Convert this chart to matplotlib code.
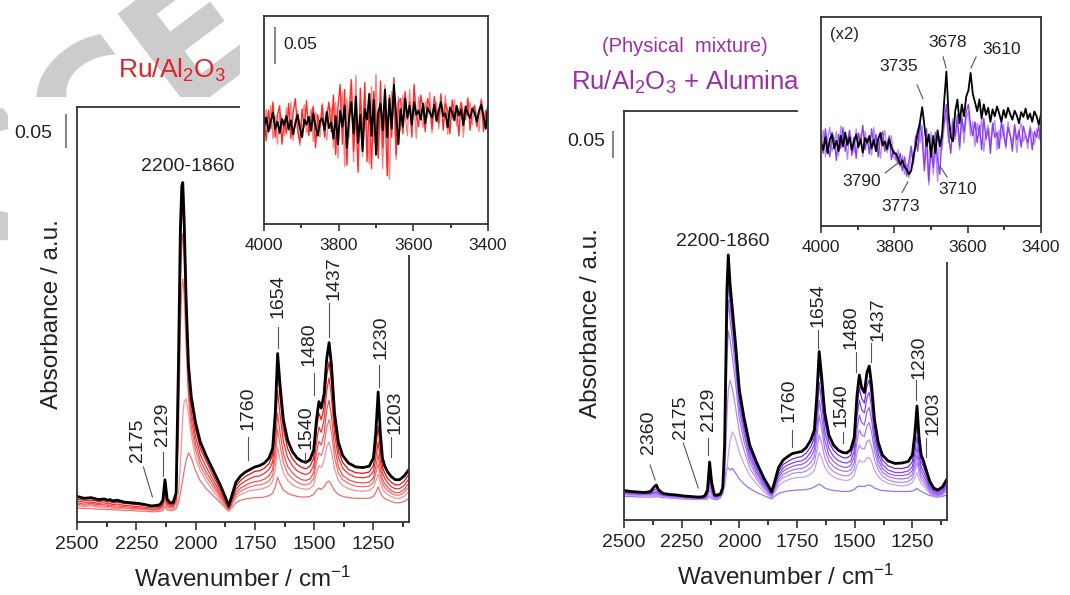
import numpy as np
import matplotlib
matplotlib.use("Agg")
import matplotlib.pyplot as plt
from matplotlib.ticker import MultipleLocator
from matplotlib.patches import Rectangle
from matplotlib.lines import Line2D

plt.rcParams['font.family'] = ['Liberation Sans', 'DejaVu Sans']
plt.rcParams['mathtext.fontset'] = 'custom'
plt.rcParams['mathtext.rm'] = 'Liberation Sans'
plt.rcParams['mathtext.it'] = 'Liberation Sans:italic'
plt.rcParams['mathtext.bf'] = 'Liberation Sans:bold'

# ---- main spectra: wavenumber grid (cm-1), absorbance in 1/1000 units ----
wavenumber = [2500, 2470, 2440, 2410, 2385, 2370, 2360, 2350, 2330, 2300, 2270, 2240, 2210, 2185, 2165, 2150,
              2138, 2129, 2120, 2108, 2095, 2082, 2072, 2064, 2058, 2054, 2048, 2040, 2030, 2018, 2000, 1980, 1955, 1925, 1895, 1870, 1860,
              1848, 1830, 1810, 1790, 1770, 1750, 1730, 1710, 1690, 1675, 1664, 1654, 1644, 1630, 1612, 1592, 1572, 1552, 1535, 1518, 1502,
              1490, 1480, 1470, 1458, 1447, 1437, 1427, 1414, 1398, 1380, 1355, 1325, 1295, 1268, 1250, 1240, 1230, 1221, 1212, 1203, 1190, 1175, 1158, 1140, 1120, 1100]

# Ru/Al2O3 (left), lowest red -> highest red, then final black
ru_red1 = [22, 21, 21, 20, 20, 19, 20, 19, 19, 18, 18, 17, 17, 16, 16, 17,
           18, 24, 19, 18, 18, 21, 30, 45, 58, 66, 80, 96, 108, 100, 80, 64, 52, 41, 30, 20, 17,
           22, 30, 34, 36, 37, 38, 38, 39, 41, 45, 55, 70, 60, 50, 45, 42, 40, 39, 39, 40, 43,
           50, 53, 51, 55, 62, 64, 58, 49, 43, 40, 38, 37, 37, 37, 40, 46, 55, 46, 40, 37, 34, 32, 30, 30, 32, 37]
ru_red2 = [26, 24, 25, 23, 23, 22, 22, 21, 21, 21, 20, 20, 19, 18, 18, 19,
           21, 30, 22, 20, 20, 24, 45, 90, 135, 165, 188, 192, 170, 135, 100, 80, 64, 48, 34, 22, 18,
           26, 38, 43, 46, 49, 50, 51, 53, 56, 63, 83, 117, 97, 77, 65, 58, 54, 52, 51, 52, 58,
           77, 88, 85, 96, 117, 125, 110, 83, 65, 57, 52, 49, 48, 49, 54, 64, 75, 61, 52, 47, 43, 40, 37, 37, 40, 48]
ru_red3 = [28, 26, 27, 25, 25, 24, 24, 23, 23, 22, 21, 21, 20, 19, 19, 20,
           23, 35, 24, 22, 22, 30, 140, 300, 370, 380, 355, 275, 195, 148, 112, 88, 71, 54, 38, 24, 19,
           28, 42, 48, 52, 55, 57, 58, 60, 64, 73, 100, 145, 120, 93, 76, 68, 62, 59, 58, 60, 68,
           93, 108, 104, 118, 148, 160, 140, 101, 77, 66, 60, 56, 55, 56, 62, 76, 90, 72, 60, 54, 49, 45, 42, 42, 46, 55]
ru_red4 = [30, 28, 29, 27, 27, 26, 26, 25, 25, 24, 23, 22, 21, 20, 20, 21,
           25, 41, 26, 24, 24, 33, 180, 370, 440, 450, 410, 305, 208, 160, 122, 96, 78, 59, 41, 26, 20,
           30, 46, 53, 57, 61, 63, 64, 67, 72, 82, 115, 170, 140, 107, 87, 77, 70, 66, 65, 67, 77,
           108, 126, 120, 138, 175, 190, 165, 117, 87, 73, 66, 62, 61, 62, 69, 86, 105, 82, 67, 60, 54, 49, 46, 46, 51, 61]
ru_red5 = [33, 31, 31, 29, 30, 28, 29, 27, 28, 26, 25, 24, 23, 22, 22, 23,
           27, 48, 29, 26, 26, 36, 205, 410, 480, 490, 440, 325, 222, 172, 133, 105, 86, 65, 45, 28, 21,
           33, 51, 59, 64, 68, 71, 72, 76, 82, 94, 135, 205, 168, 126, 101, 88, 80, 76, 74, 77, 88,
           125, 148, 140, 160, 205, 225, 195, 137, 101, 84, 75, 70, 69, 71, 79, 100, 125, 96, 77, 69, 61, 55, 52, 52, 57, 68]
ru_red6 = [36, 34, 34, 32, 33, 31, 32, 30, 31, 29, 28, 27, 26, 24, 24, 25,
           30, 55, 32, 28, 28, 40, 230, 440, 505, 515, 460, 340, 235, 185, 145, 115, 95, 72, 50, 31, 23,
           36, 56, 65, 71, 75, 79, 80, 84, 91, 105, 155, 240, 195, 145, 115, 99, 90, 85, 83, 87, 100,
           145, 170, 160, 180, 228, 250, 218, 152, 112, 93, 82, 77, 76, 78, 88, 115, 150, 112, 86, 77, 68, 62, 58, 58, 64, 75]
ru_black = [40, 37, 38, 35, 36, 34, 35, 33, 34, 31, 30, 29, 27, 25, 26, 27,
            34, 66, 36, 30, 30, 45, 250, 460, 525, 530, 470, 350, 245, 195, 155, 125, 103, 80, 57, 35, 25,
            40, 62, 72, 78, 82, 86, 88, 92, 100, 115, 170, 263, 215, 160, 128, 110, 100, 95, 93, 97, 112,
            160, 188, 178, 200, 255, 280, 245, 170, 125, 104, 92, 86, 85, 87, 100, 140, 203, 140, 100, 88, 78, 71, 66, 66, 72, 82]

# Ru/Al2O3 + Alumina (right), lowest purple -> highest purple, then final black
mix_p1 = [47, 47, 46, 46, 46, 46, 47, 46, 45, 44, 43, 42, 41, 41, 41, 41,
          42, 48, 43, 41, 41, 44, 60, 82, 97, 103, 104, 100, 103, 95, 82, 72, 63, 55, 49, 44, 42,
          47, 53, 56, 58, 59, 60, 60, 61, 63, 66, 69, 72, 69, 64, 61, 59, 58, 57, 57, 58, 61,
          66, 68, 67, 67, 69, 70, 68, 64, 61, 59, 58, 57, 57, 57, 58, 60, 63, 60, 57, 55, 52, 49, 47, 46, 47, 50]
mix_p2 = [50, 49, 49, 48, 48, 49, 49, 48, 47, 45, 44, 43, 42, 42, 42, 42,
          44, 50, 46, 43, 43, 45, 52, 66, 85, 102, 130, 158, 176, 165, 135, 112, 89, 72, 57, 47, 44,
          53, 68, 76, 80, 83, 85, 85, 87, 92, 99, 117, 135, 125, 106, 93, 86, 82, 80, 79, 81, 89,
          110, 120, 116, 116, 124, 125, 117, 100, 87, 79, 73, 70, 68, 70, 75, 84, 95, 82, 73, 69, 62, 53, 47, 45, 49, 59]
mix_p3 = [52, 51, 50, 50, 50, 51, 51, 50, 48, 46, 45, 44, 43, 43, 43, 43,
          46, 60, 50, 44, 44, 46, 54, 85, 150, 205, 260, 280, 262, 230, 175, 140, 104, 81, 63, 50, 46,
          58, 76, 85, 89, 93, 95, 95, 98, 105, 114, 140, 170, 155, 125, 106, 97, 92, 89, 88, 91, 102,
          133, 150, 143, 142, 157, 160, 147, 120, 100, 88, 80, 76, 75, 77, 83, 97, 115, 94, 81, 76, 67, 56, 49, 47, 51, 63]
mix_p4 = [53, 52, 51, 51, 51, 52, 53, 51, 49, 47, 46, 45, 44, 43, 43, 44,
          48, 70, 54, 45, 45, 47, 56, 105, 225, 320, 378, 360, 325, 280, 203, 158, 115, 88, 67, 53, 48,
          61, 81, 91, 96, 100, 102, 103, 107, 115, 127, 163, 210, 185, 143, 118, 107, 101, 98, 97, 100, 114,
          157, 180, 170, 167, 188, 195, 175, 137, 110, 96, 87, 83, 82, 84, 91, 108, 130, 104, 89, 83, 72, 59, 51, 49, 53, 66]
mix_p5 = [54, 53, 52, 52, 52, 54, 55, 53, 50, 48, 47, 46, 45, 44, 44, 45,
          50, 80, 58, 46, 46, 48, 58, 120, 265, 380, 440, 400, 360, 310, 222, 172, 124, 94, 71, 55, 50,
          64, 86, 98, 103, 107, 110, 111, 116, 126, 140, 185, 240, 210, 160, 130, 117, 110, 106, 105, 109, 126,
          180, 210, 195, 190, 217, 225, 200, 152, 120, 103, 93, 89, 89, 91, 99, 120, 146, 115, 97, 90, 78, 63, 54, 51, 55, 70]
mix_p6 = [55, 54, 53, 53, 53, 56, 57, 54, 51, 49, 48, 46, 45, 44, 44, 46,
          52, 90, 63, 47, 47, 49, 60, 130, 290, 415, 480, 430, 385, 330, 236, 183, 132, 100, 75, 58, 52,
          67, 91, 104, 110, 114, 117, 118, 124, 136, 152, 205, 275, 238, 178, 143, 127, 119, 115, 114, 118, 138,
          205, 240, 221, 214, 245, 255, 225, 168, 131, 111, 100, 95, 95, 98, 107, 133, 167, 128, 106, 98, 84, 67, 57, 53, 58, 73]
mix_p7 = [57, 55, 55, 54, 55, 60, 62, 57, 52, 50, 49, 47, 46, 45, 45, 47,
          55, 100, 68, 48, 48, 50, 62, 140, 310, 440, 510, 455, 405, 345, 248, 193, 140, 107, 80, 61, 54,
          70, 97, 111, 117, 122, 125, 127, 134, 147, 165, 228, 307, 265, 197, 157, 139, 130, 125, 124, 129, 152,
          228, 265, 243, 234, 268, 280, 246, 183, 142, 120, 108, 103, 103, 106, 117, 150, 195, 145, 117, 108, 91, 72, 60, 56, 62, 77]
mix_black = [59, 57, 56, 55, 57, 66, 70, 60, 53, 51, 50, 48, 47, 46, 46, 48,
             60, 116, 75, 50, 50, 52, 65, 150, 330, 460, 530, 470, 420, 360, 260, 205, 150, 115, 85, 65, 56,
             75, 105, 120, 127, 133, 135, 137, 145, 160, 180, 250, 337, 290, 215, 170, 150, 140, 135, 134, 140, 165,
             250, 290, 265, 255, 295, 308, 270, 200, 155, 130, 118, 113, 114, 117, 130, 170, 228, 165, 130, 120, 100, 78, 64, 60, 66, 82]

# ---- OH region insets: 4000 -> 3400 cm-1 every 6 cm-1, values in 1/1000 ----
oh_wavenumber = np.arange(4000, 3399, -6)
ru_oh_black = [-5, 8, -12, 3, 15, -8, 2, -14, 6, -3, 10, -9, 4, -16, 0, 12, -6, -20, 5, -2, 9, -11, 14, -4, -18, 3, 7, -10, 16, -7, 1,
               -22, 10, -30, 18, -5, 25, -35, 8, 30, -15, 38, -28, 12, -40, 20, 5, 42, -18, 33, -45, 15, 28, -10, 48, -20, 35, -8, 55, 10, -30,
               20, -5, 35, 8, 25, -2, 30, 12, 18, 5, 28, 0, 22, 15, 8, 26, 3, 18, 30, 10, 14, -6, 22, 16, 4, 25, 11, 19, -3, 24, 13, 7, 21, 15, 2, 18, 26, 9, -8, 25]
ru_oh_red = [10, -25, 18, -8, 30, -20, 12, 25, -30, 5, -15, 28, -22, 15, 35, -10, -28, 20, -5, 32, -18, 8, 24, -35, 12, -6, 26, -20, 10, 30, -12,
             40, -45, 22, 55, -30, 48, -60, 20, 62, -40, 15, -70, 50, -25, 58, -55, 30, -65, 45, 10, -50, 60, -35, 25, -75, 40, -20, 65, -45, 30,
             35, -15, 45, 5, 30, -20, 55, 10, -5, 40, 20, -12, 35, 25, -8, 38, 15, 0, 42, -10, 28, 18, -15, 33, 10, 22, -18, 30, 12, 5, 36, -10, 20, 25, -5, 15, 32, -12, 18, 8]
ru_oh_pink = [-15, 20, -5, 25, -22, 10, -30, 15, 8, -18, 22, -10, 30, -25, 5, 18, -32, 12, 26, -14, -4, 20, -26, 16, 2, -20, 28, -8, -24, 14, 22,
              -35, 30, -50, 12, 45, -62, 35, -20, 50, -55, 68, -30, 25, -48, 40, -15, -58, 52, -28, 70, -40, 18, -65, 55, -10, -80, 45, 20, -52, 38,
              -10, 40, 12, -18, 48, 2, 25, -22, 38, 16, -6, 30, 8, 44, -14, 20, 30, -8, 26, 12, 40, -16, 24, 6, 34, -4, 18, 28, -20, 22, 14, 30, -2, 26, 10, -12, 35, 16, 4, 20]

mix_oh_black = [0, -10, 8, -15, 5, 12, -8, 3, -12, 10, -5, 15, -3, 8, -10, 2, 12, -6, 5, -14, 7, 0, 10, -8, 4, -12, 6, 14, -4, 2, -9, 5, -6, -15,
                -15, -22, -31, -25, -35, -38, -45, -40, -20, -5, 15, 30, 51, 25, -5, 12, -20, 10, -15, 18,
                -5, 10, 60, 102, 40, 8, 2, 45, 62, 28, 55, 38, 66, 75, 100, 70, 58,
                45, 62, 35, 55, 40, 50, 30, 48, 38, 52, 42, 30, 47, 36, 50, 41, 33, 46, 39, 28, 44, 37, 49, 34, 42, 30, 45, 38, 26, 41]
mix_oh_violet = [10, -15, 20, -5, -20, 15, 5, -25, 12, -8, 22, -12, 3, 18, -18, 8, -22, 14, 0, 25, -10, 6, -16, 20, -4, 12, -20, 8, 16, -12, -2, 10, -24, -10,
                 -20, -30, -15, -40, -20, -48, -25, -5, -30, 10, -12, 30, 5, -40, 20, -55, -10, -35, 15, -25,
                 -45, 10, 30, 55, 10, -15, 30, 10, 40, -5, 35, 15, 45, 55, 25, 10, 30,
                 0, 25, -10, 35, 5, 20, -15, 28, 8, 15, -8, 30, 12, -5, 22, 10, -12, 26, 4, 18, -6, 24, 10, 0, 20, -10, 16, 8, 25, -4]
mix_oh_lilac = [-8, 18, -20, 6, 22, -12, -2, 16, -18, 24, -6, 10, -24, 14, 4, -14, 20, -8, 12, -20, 16, -2, 8, -18, 22, -10, 2, -22, 6, 18, -14, -4, 10, -20,
                -25, -10, -35, -18, -45, -30, -50, -12, -25, 5, 20, 0, 25, -30, -10, -60, 15, -45, -5, -55,
                10, -10, 25, 40, 0, 15, 35, 5, 30, -10, 40, 0, 35, 45, 10, 30, -5,
                28, 10, 35, -12, 15, 25, -2, 20, 32, -10, 18, 6, 26, -8, 30, 12, 0, 22, -14, 16, 28, 2, 12, -8, 24, 14, -2, 20, 6, 18]

# peak labels: (text, x, y, leader x1, y1, x2, y2)
ru_peaks = [('2175', 2246, 0.128, 2220, 0.086, 2182, 0.039),
            ('2129', 2140, 0.152, 2136, 0.109, 2136, 0.072),
            ('1760', 1780, 0.178, 1780, 0.133, 1780, 0.097),
            ('1654', 1653, 0.352, 1653, 0.305, 1653, 0.272),
            ('1540', 1534, 0.148, 1540, 0.108, 1540, 0.094),
            ('1480', 1521, 0.277, 1500, 0.233, 1500, 0.198),
            ('1437', 1415, 0.381, 1436, 0.342, 1436, 0.289),
            ('1230', 1216, 0.289, 1225, 0.245, 1225, 0.211),
            ('1203', 1161, 0.172, 1178, 0.133, 1178, 0.102)]
mix_peaks = [('2360', 2395, 0.176, 2387, 0.110, 2365, 0.080),
             ('2175', 2256, 0.206, 2243, 0.154, 2178, 0.064),
             ('2129', 2134, 0.222, 2134, 0.164, 2134, 0.130),
             ('1760', 1786, 0.240, 1773, 0.180, 1773, 0.146),
             ('1654', 1660, 0.430, 1660, 0.380, 1660, 0.344),
             ('1540', 1559, 0.230, 1551, 0.176, 1551, 0.154),
             ('1480', 1516, 0.386, 1494, 0.336, 1494, 0.296),
             ('1437', 1398, 0.402, 1429, 0.354, 1429, 0.316),
             ('1230', 1220, 0.326, 1233, 0.280, 1233, 0.240),
             ('1203', 1159, 0.214, 1189, 0.164, 1189, 0.126)]
mix_oh_peaks = [('3735', 3787, 0.109, 3738, 0.083, 3722, 0.063),
                ('3678', 3656, 0.143, 3667, 0.123, 3659, 0.107),
                ('3610', 3506, 0.133, 3577, 0.123, 3591, 0.107),
                ('3790', 3888, -0.056, 3825, -0.043, 3785, -0.027),
                ('3773', 3782, -0.091, 3779, -0.071, 3763, -0.056),
                ('3710', 3626, -0.067, 3656, -0.049, 3675, -0.034)]

ru_series = [ru_red1, ru_red2, ru_red3, ru_red4, ru_red5, ru_red6]
ru_colors = ['#ee7070', '#f29494', '#f07272', '#ec5252', '#e83434', '#e01414']
mix_series = [mix_p1, mix_p2, mix_p3, mix_p4, mix_p5, mix_p6, mix_p7]
mix_colors = ['#9d74f0', '#c2a4f6', '#b48cf3', '#a578f2', '#9460f0', '#8446ee', '#7428e8']

W, H = 1070, 595
TXT = '#222222'


def box(x0, y0, x1, y1):
    return [x0 / W, 1 - y1 / H, (x1 - x0) / W, (y1 - y0) / H]


def fpt(x, y):
    return x / W, 1 - y / H


def white(x0, y0, x1, y1, z):
    l, b, w, h = box(x0, y0, x1, y1)
    fig.add_artist(Rectangle((l, b), w, h, transform=fig.transFigure,
                             facecolor='white', edgecolor='none', zorder=z))


def vbar(x, y0, y1):
    fig.add_artist(Line2D([x / W, x / W], [1 - y0 / H, 1 - y1 / H], transform=fig.transFigure,
                          color='#888888', lw=1.5, zorder=3))


def style_main(ax, ymax):
    ax.set_xlim(2500, 1100)
    ax.set_ylim(0, ymax)
    ax.xaxis.set_major_locator(MultipleLocator(250))
    ax.xaxis.set_minor_locator(MultipleLocator(125))
    ax.set_yticks([])
    ax.tick_params(axis='x', which='major', direction='out', length=6, width=1.1, labelsize=14, pad=4, colors=TXT)
    ax.tick_params(axis='x', which='minor', direction='out', length=3.5, width=1.1)
    for s in ax.spines.values():
        s.set_linewidth(1.3)
        s.set_color('#333333')
    ax.set_xlabel('Wavenumber / cm$^\\mathregular{-1}$', fontsize=17.5, color=TXT, labelpad=10)


def style_inset(ax, ylo, yhi):
    ax.set_xlim(4000, 3400)
    ax.set_ylim(ylo, yhi)
    ax.xaxis.set_major_locator(MultipleLocator(200))
    ax.xaxis.set_minor_locator(MultipleLocator(100))
    ax.set_yticks([])
    ax.tick_params(axis='x', which='major', direction='out', length=5, width=1.1, labelsize=12.5, pad=5, colors=TXT)
    ax.tick_params(axis='x', which='minor', direction='out', length=3, width=1.1)
    for s in ax.spines.values():
        s.set_linewidth(1.3)
        s.set_color('#333333')


def label_peaks(ax, peaks, size):
    for t, x, y, x1, y1, x2, y2 in peaks:
        ax.text(x, y, t, rotation=90 if size > 13 else 0, ha='center', va='center', fontsize=size, color=TXT)
        ax.plot([x1, x2], [y1, y2], color='#555555', lw=0.8)


fig = plt.figure(figsize=(W / 100, H / 100), dpi=100)

# faint watermark behind the chart
fig.text(*fpt(242, 14), 'ACCEPTED', rotation=37, rotation_mode='anchor', ha='center', va='center',
         fontsize=120, fontweight='bold', color='#cccccc', family='DejaVu Sans', zorder=-3)
white(8, 97, W, H, -2)
white(243, 0, W, 97, -2)

# ---------------- left: Ru/Al2O3 ----------------
ax1 = fig.add_axes(box(77, 107, 409, 522))
for vals, c in zip(ru_series, ru_colors):
    ax1.plot(wavenumber, np.array(vals) / 1000, color=c, lw=0.9)
ax1.plot(wavenumber, np.array(ru_black) / 1000, color='black', lw=2.0)
style_main(ax1, 0.648)
label_peaks(ax1, ru_peaks, 14)
ax1.text(2034, 0.555, '2200-1860', ha='center', va='center', fontsize=14, color=TXT)

white(240, 0, 530, 255, 0.5)
ins1 = fig.add_axes(box(264, 16, 488, 224), zorder=1)
ins1.plot(oh_wavenumber, np.array(ru_oh_pink) / 1000, color='#f08a8a', lw=1.0)
ins1.plot(oh_wavenumber, np.array(ru_oh_red) / 1000, color='#ff2a2a', lw=1.0)
ins1.plot(oh_wavenumber, np.array(ru_oh_black) / 1000, color='black', lw=1.4)
style_inset(ins1, -0.144, 0.153)
ins1.plot([0.049, 0.049], [0.774, 0.942], transform=ins1.transAxes, color='#888888', lw=1.5)
ins1.text(0.085, 0.865, '0.05', transform=ins1.transAxes, ha='left', va='center', fontsize=12.5, color=TXT)

fig.text(*fpt(172, 70), 'Ru/Al$_\\mathregular{2}$O$_\\mathregular{3}$', ha='center', va='center',
         fontsize=19, color='#e3232b')
fig.text(*fpt(52, 314), 'Absorbance / a.u.', rotation=90, ha='center', va='center', fontsize=17.5, color=TXT)
vbar(66, 115, 147)
fig.text(*fpt(33, 133), '0.05', ha='center', va='center', fontsize=14, color=TXT)

# ---------------- right: physical mixture ----------------
ax2 = fig.add_axes(box(624, 111, 947, 520))
for vals, c in zip(mix_series, mix_colors):
    ax2.plot(wavenumber, np.array(vals) / 1000, color=c, lw=0.9)
ax2.plot(wavenumber, np.array(mix_black) / 1000, color='black', lw=2.0)
style_main(ax2, 0.818)
label_peaks(ax2, mix_peaks, 14)
ax2.text(2073, 0.556, '2200-1860', ha='center', va='center', fontsize=14, color=TXT)

white(798, 0, W, 262, 0.5)
ins2 = fig.add_axes(box(821, 17, 1041, 226), zorder=1)
ins2.plot(oh_wavenumber, np.array(mix_oh_lilac) / 1000, color='#b68cf5', lw=1.0)
ins2.plot(oh_wavenumber, np.array(mix_oh_violet) / 1000, color='#8a3ff0', lw=1.0)
ins2.plot(oh_wavenumber, np.array(mix_oh_black) / 1000, color='black', lw=1.3)
style_inset(ins2, -0.119, 0.18)
label_peaks(ins2, mix_oh_peaks, 12.5)
ins2.text(0.04, 0.915, '(x2)', transform=ins2.transAxes, ha='left', va='center', fontsize=12, color=TXT)

fig.text(*fpt(685, 47), '(Physical  mixture)', ha='center', va='center', fontsize=14.5, color='#9a2fa6')
fig.text(*fpt(686, 82), 'Ru/Al$_\\mathregular{2}$O$_\\mathregular{3}$ + Alumina', ha='center', va='center',
         fontsize=18.5, color='#9a2fa6')
fig.text(*fpt(591, 323), 'Absorbance / a.u.', rotation=90, ha='center', va='center', fontsize=17.5, color=TXT)
vbar(613, 132, 157)
fig.text(*fpt(586, 142), '0.05', ha='center', va='center', fontsize=14, color=TXT)

fig.savefig('out.png', dpi=100, facecolor='white')
